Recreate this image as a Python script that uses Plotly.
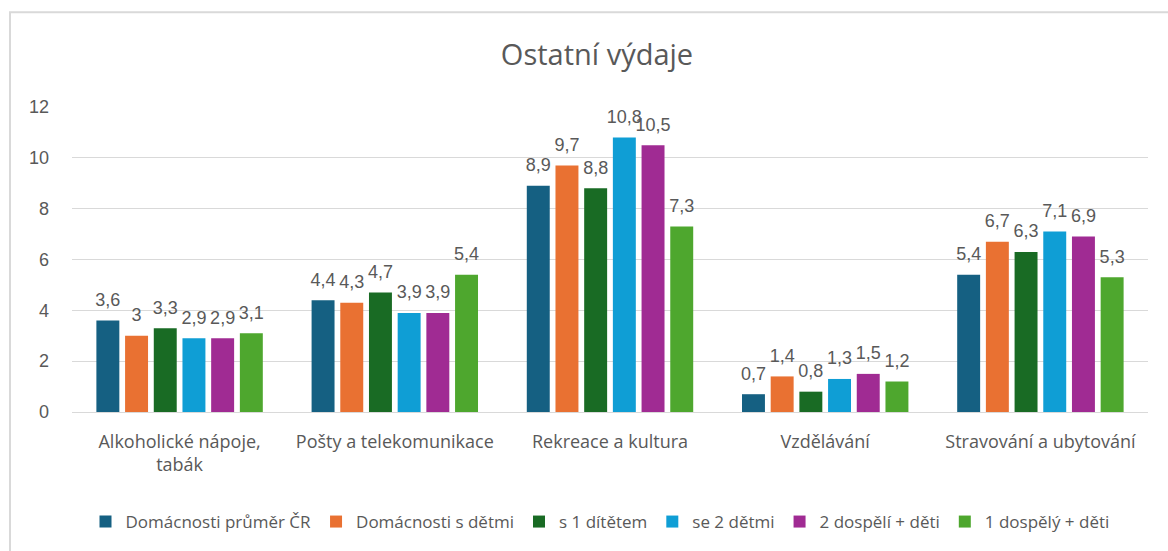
import plotly.graph_objects as go

categories = ["Alkoholické nápoje,<br>tabák", "Pošty a telekomunikace", "Rekreace a kultura",
              "Vzdělávání", "Stravování a ubytování"]
series_names = ["Domácnosti průměr ČR", "Domácnosti s dětmi", "s 1 dítětem",
                "se 2 dětmi", "2 dospělí + děti", "1 dospělý + děti"]
prumer_cr = [3.6, 4.4, 8.9, 0.7, 5.4]
s_detmi = [3.0, 4.3, 9.7, 1.4, 6.7]
s_1_ditetem = [3.3, 4.7, 8.8, 0.8, 6.3]
se_2_detmi = [2.9, 3.9, 10.8, 1.3, 7.1]
dva_dospeli = [2.9, 3.9, 10.5, 1.5, 6.9]
jeden_dospely = [3.1, 5.4, 7.3, 1.2, 5.3]
series_values = [prumer_cr, s_detmi, s_1_ditetem, se_2_detmi, dva_dospeli, jeden_dospely]
colors = ["#156082", "#E97132", "#196B24", "#0F9ED5", "#A02B93", "#4EA72E"]

LABEL_PAD = 0.3  # gap between bar top and its data label, in axis units


def fmt(v):
    return f"{v:g}".replace(".", ",")


fig = go.Figure()
for i, (name, vals, col) in enumerate(zip(series_names, series_values, colors)):
    fig.add_trace(go.Bar(
        x=categories, y=vals, name=name, offsetgroup=str(i),
        marker=dict(color=col, line=dict(width=0)),
    ))
for i, vals in enumerate(series_values):
    fig.add_trace(go.Bar(
        x=categories, y=[LABEL_PAD] * len(vals), base=vals, offsetgroup=str(i),
        showlegend=False, hoverinfo="skip",
        marker=dict(color="rgba(0,0,0,0)", line=dict(width=0)),
        text=[fmt(v) for v in vals], textposition="outside",
        textfont=dict(family="Liberation Sans, Arial, sans-serif", size=18, color="#595959"),
        constraintext="none", cliponaxis=False,
    ))

W, H = 1168, 551
ml, mr, mt, mb = 72, 20, 107, 138
pw, ph = W - ml - mr, H - mt - mb

fig.update_layout(
    width=W, height=H,
    margin=dict(l=ml, r=mr, t=mt, b=mb),
    paper_bgcolor="white", plot_bgcolor="white",
    barmode="group", bargap=0.2, bargroupgap=0.2,
    title=dict(text="Ostatní výdaje", x=597 / W, xanchor="center",
               y=1 - 55 / H, yanchor="middle",
               font=dict(family="Open Sans, sans-serif", size=29, color="#595959")),
    font=dict(family="Open Sans, sans-serif", color="#595959"),
    yaxis=dict(range=[0, 12], dtick=2, showgrid=True, gridcolor="#d9d9d9", gridwidth=1,
               zeroline=True, zerolinecolor="#d9d9d9", zerolinewidth=1,
               tickfont=dict(family="Liberation Sans, Arial, sans-serif", size=18, color="#595959"),
               ticks="", ticklabelstandoff=22),
    xaxis=dict(showline=True, linecolor="#d9d9d9", linewidth=1, ticks="",
               tickfont=dict(family="Open Sans, sans-serif", size=18, color="#595959"),
               ticklabelstandoff=13),
    legend=dict(orientation="h", x=(600 - ml) / pw, xanchor="center",
                y=(ph - (522 - mt)) / ph, yanchor="middle",
                font=dict(family="Open Sans, sans-serif", size=17, color="#595959"),
                itemwidth=30, traceorder="normal"),
    shapes=[dict(type="rect", xref="paper", yref="paper",
                 x0=(10 - ml) / pw, x1=(W + 5 - ml) / pw,
                 y0=(ph - (H + 5 - mt)) / ph, y1=(ph - (12 - mt)) / ph,
                 line=dict(color="#d9d9d9", width=2), fillcolor="rgba(0,0,0,0)", layer="below")],
)

fig.write_html("out.html", config={"displayModeBar": False},
               post_script="document.body.style.margin='0';")
